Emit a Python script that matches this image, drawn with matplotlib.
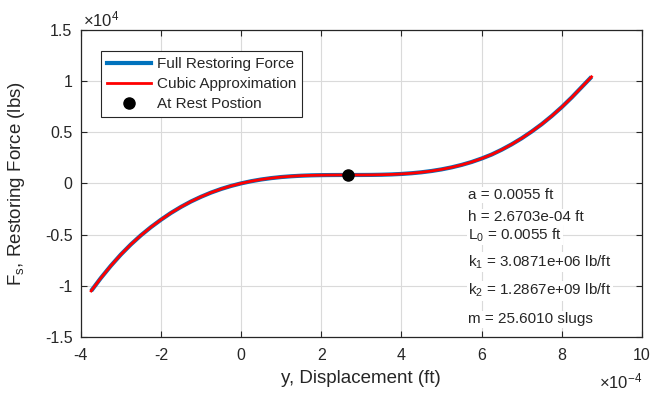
import matplotlib
matplotlib.use("Agg")
import matplotlib.pyplot as plt
from matplotlib.lines import Line2D

plt.rcParams['font.family'] = ['Liberation Sans', 'DejaVu Sans']
plt.rcParams['mathtext.fontset'] = 'custom'
plt.rcParams['mathtext.rm'] = 'Liberation Sans'
plt.rcParams['mathtext.it'] = 'Liberation Sans'
plt.rcParams['mathtext.bf'] = 'Liberation Sans:bold'

# ---- data (displacement in ft, force in lbs) ----
disp = [-3.74e-4, -3.5e-4, -3.25e-4, -3.0e-4, -2.75e-4, -2.5e-4, -2.25e-4, -2.0e-4,
        -1.75e-4, -1.5e-4, -1.25e-4, -1.0e-4, -0.75e-4, -0.5e-4, -0.25e-4, 0.0,
        0.25e-4, 0.5e-4, 0.75e-4, 1.0e-4, 1.25e-4, 1.5e-4, 1.75e-4, 2.0e-4,
        2.25e-4, 2.5e-4, 2.75e-4, 3.0e-4, 3.25e-4, 3.5e-4, 3.75e-4, 4.0e-4,
        4.25e-4, 4.5e-4, 4.75e-4, 5.0e-4, 5.25e-4, 5.5e-4, 5.75e-4, 6.0e-4,
        6.25e-4, 6.5e-4, 6.75e-4, 7.0e-4, 7.25e-4, 7.5e-4, 7.75e-4, 8.0e-4,
        8.25e-4, 8.5e-4, 8.74e-4]
force_full = [-10500, -9250, -8050, -6950, -5960, -5070, -4270, -3545,
              -2880, -2290, -1760, -1300, -890, -540, -240, 10,
              220, 390, 525, 630, 705, 760, 795, 815,
              825, 830, 830, 832, 838, 855, 884, 932,
              1000, 1095, 1220, 1378, 1575, 1815, 2100, 2440,
              2830, 3300, 3830, 4420, 5080, 5800, 6600, 7470,
              8420, 9440, 10420]
force_cubic = list(force_full)
rest_disp = [2.6703e-4]
rest_force = [830]

xticks = [-4e-4, -2e-4, 0, 2e-4, 4e-4, 6e-4, 8e-4, 10e-4]
xtick_labels = ['-4', '-2', '0', '2', '4', '6', '8', '10']
yticks = [-1.5e4, -1e4, -0.5e4, 0, 0.5e4, 1e4, 1.5e4]
ytick_labels = ['-1.5', '-1', '-0.5', '0', '0.5', '1', '1.5']

param_lines = ['a = 0.0055 ft', 'h = 2.6703e-04 ft', 'L$_0$ = 0.0055 ft',
               'k$_1$ = 3.0871e+06 lb/ft', 'k$_2$ = 1.2867e+09 lb/ft',
               'm = 25.6010 slugs']

dark = '#262626'
fig = plt.figure(figsize=(6.53, 3.94), dpi=100)
ax = fig.add_axes([0.1236, 0.1447, 0.8596, 0.7792])

ax.plot(disp, force_full, color='#0072BD', lw=3.0, label='Full Restoring Force',
        solid_capstyle='butt', zorder=3)
ax.plot(disp, force_cubic, color='#FF0000', lw=2.0, label='Cubic Approximation',
        zorder=4)
ax.plot(rest_disp, rest_force, 'o', color='black', ms=8, label='At Rest Postion',
        zorder=5)

ax.set_xlim(-4e-4, 10e-4)
ax.set_ylim(-1.5e4, 1.5e4)
ax.set_xticks(xticks)
ax.set_xticklabels(xtick_labels)
ax.set_yticks(yticks)
ax.set_yticklabels(ytick_labels)

ax.grid(True, color='#dadada', lw=0.8)
ax.set_axisbelow(True)
ax.tick_params(direction='in', length=4, width=0.8, colors=dark, labelsize=11.5,
               top=True, right=True)
ax.tick_params(axis='x', pad=8)
ax.tick_params(axis='y', pad=6)
for s in ax.spines.values():
    s.set_color(dark)
    s.set_linewidth(0.9)

ax.set_xlabel('y, Displacement (ft)', fontsize=13.5, color=dark)
ax.set_ylabel('F$_s$, Restoring Force (lbs)', fontsize=13.5, color=dark)
ax.xaxis.set_label_coords(0.4985, -0.108)
ax.yaxis.set_label_coords(-0.095, 0.5)

ax.text(0.004, 1.013, r'$\times10^{4}$', transform=ax.transAxes, fontsize=12,
        color=dark, ha='left', va='baseline')
ax.text(1.0, -0.166, r'$\times10^{-4}$', transform=ax.transAxes, fontsize=12,
        color=dark, ha='right', va='baseline')

ybase = [0.4495, 0.378, 0.318, 0.229, 0.137, 0.0446]
for t, yb in zip(param_lines, ybase):
    ax.text(0.690, yb, t, transform=ax.transAxes, fontsize=11, color=dark,
            ha='left', va='baseline',
            bbox=dict(facecolor='white', edgecolor='none', pad=1.0), zorder=2)

handles = [Line2D([], [], color='#0072BD', lw=3.0),
           Line2D([], [], color='#FF0000', lw=2.0),
           Line2D([], [], marker='o', color='black', ms=8, ls='none')]
leg = ax.legend(handles, ['Full Restoring Force', 'Cubic Approximation', 'At Rest Postion'],
                loc='upper left', bbox_to_anchor=(0.036, 0.9316), borderaxespad=0,
                fontsize=11, fancybox=False, framealpha=1, edgecolor=dark,
                handlelength=2.9, handletextpad=0.35, borderpad=0.4,
                labelspacing=0.4)
leg.get_frame().set_linewidth(0.8)
for t in leg.get_texts():
    t.set_color(dark)

fig.savefig('out.png', dpi=100)
